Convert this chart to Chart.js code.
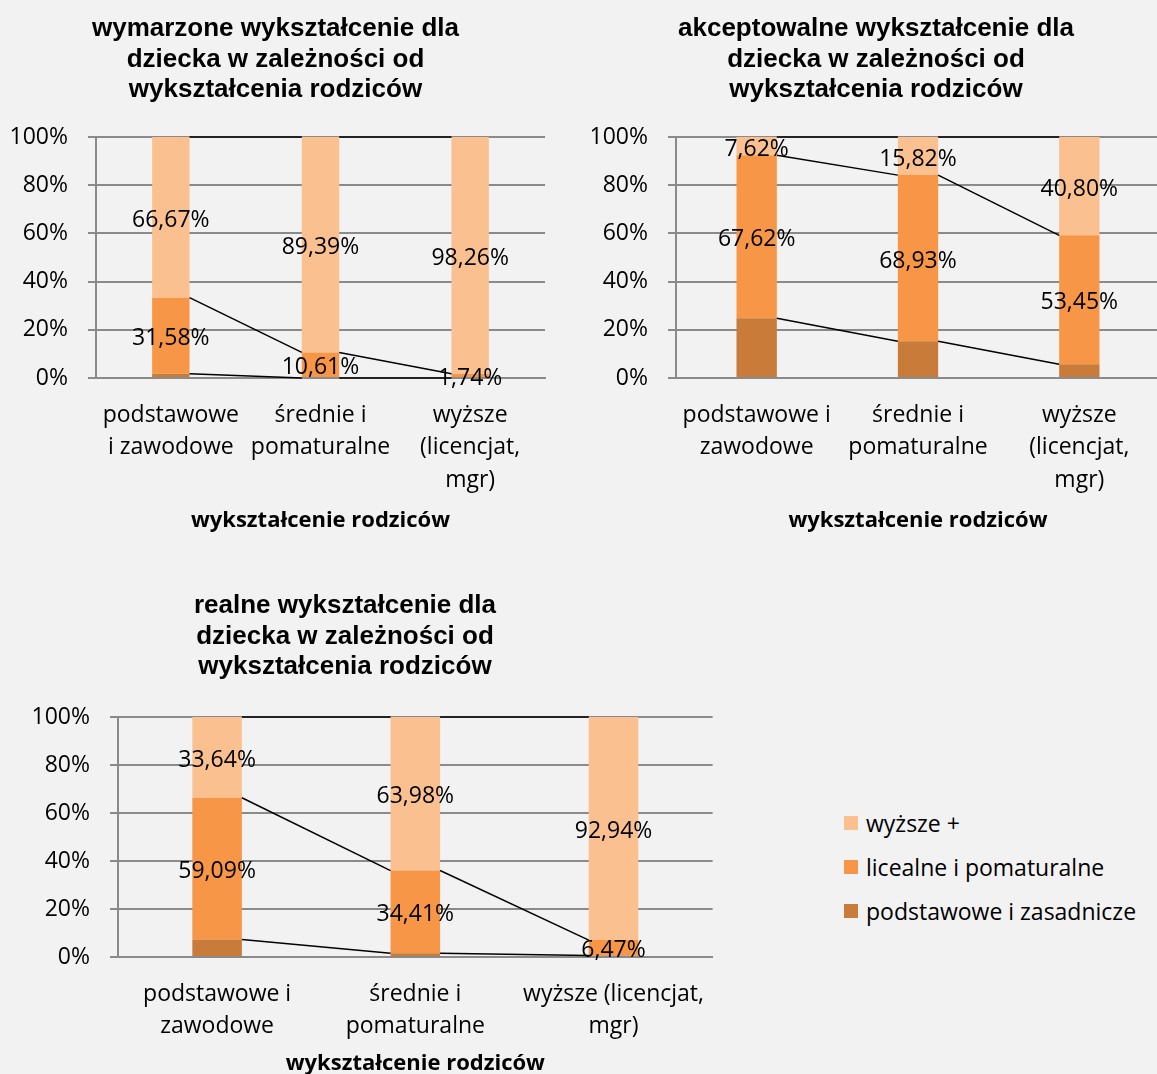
<!DOCTYPE html>
<html>
<head>
<meta charset="utf-8">
<script src="https://cdn.jsdelivr.net/npm/chart.js@4.4.1/dist/chart.umd.min.js"></script>
<style>
  html, body { margin: 0; padding: 0; background: #f2f2f2; overflow: hidden; width: 1157px; height: 1074px; position: relative; }
  canvas { position: absolute; }
  #legend { position: absolute; left: 844px; top: 801px; font-family: "Open Sans"; font-size: 23px; color: #000; }
  #legend div { height: 44px; display: flex; align-items: center; white-space: nowrap; }
  #legend span { display: inline-block; width: 14px; height: 14px; margin-right: 8px; }
</style>
</head>
<body>
<canvas id="dream-chart" style="left:0;top:0" width="560" height="534"></canvas>
<canvas id="accept-chart" style="left:592px;top:0" width="568" height="534"></canvas>
<canvas id="real-chart" style="left:-35px;top:580px" width="760" height="497"></canvas>
<div id="legend"></div>
<script>
// serie (od dołu stosu)
const seriesNames = ["podstawowe i zasadnicze", "licealne i pomaturalne", "wyższe +"];
const seriesColors = ["#c97b3a", "#f79646", "#fac090"];

const axisTitle = "wykształcenie rodziców";
const yTicks = [0, 20, 40, 60, 80, 100];

// wymarzone
const dreamTitle = ["wymarzone wykształcenie dla", "dziecka w zależności od", "wykształcenia rodziców"];
const dreamLabels = [["podstawowe", "i zawodowe"], ["średnie i", "pomaturalne"], ["wyższe", "(licencjat,", "mgr)"]];
const dreamBasic = [1.75, 0, 0];
const dreamMid = [31.58, 10.61, 1.74];
const dreamHigh = [66.67, 89.39, 98.26];

// akceptowalne
const acceptTitle = ["akceptowalne wykształcenie dla", "dziecka w zależności od", "wykształcenia rodziców"];
const acceptLabels = [["podstawowe i", "zawodowe"], ["średnie i", "pomaturalne"], ["wyższe", "(licencjat,", "mgr)"]];
const acceptBasic = [24.76, 15.25, 5.75];
const acceptMid = [67.62, 68.93, 53.45];
const acceptHigh = [7.62, 15.82, 40.80];

// realne
const realTitle = ["realne wykształcenie dla", "dziecka w zależności od", "wykształcenia rodziców"];
const realLabels = [["podstawowe i", "zawodowe"], ["średnie i", "pomaturalne"], ["wyższe (licencjat,", "mgr)"]];
const realBasic = [7.27, 1.61, 0.59];
const realMid = [59.09, 34.41, 6.47];
const realHigh = [33.64, 63.98, 92.94];

const gridColor = "#8a8a8a";

// linie serii między słupkami (jak w Excelu)
const seriesLines = {
  id: "seriesLines",
  afterDatasetsDraw(chart) {
    const ctx = chart.ctx;
    ctx.save();
    ctx.strokeStyle = "#000";
    ctx.lineWidth = 1.5;
    chart.data.datasets.forEach((ds, i) => {
      const bars = chart.getDatasetMeta(i).data;
      for (let j = 0; j < bars.length - 1; j++) {
        const a = bars[j], b = bars[j + 1];
        ctx.beginPath();
        ctx.moveTo(a.x + a.width / 2, a.y);
        ctx.lineTo(b.x - b.width / 2, b.y);
        ctx.stroke();
      }
    });
    ctx.restore();
  }
};

// etykiety wartości w środku segmentów
const segmentLabels = {
  id: "segmentLabels",
  afterDraw(chart) {
    const ctx = chart.ctx;
    ctx.save();
    ctx.font = '23px "Open Sans"';
    ctx.fillStyle = "#000";
    ctx.textAlign = "center";
    ctx.textBaseline = "middle";
    chart.data.datasets.forEach((ds, i) => {
      if (!ds.showValues) return;
      chart.getDatasetMeta(i).data.forEach((bar, j) => {
        const txt = ds.data[j].toFixed(2).replace(".", ",") + "%";
        ctx.fillText(txt, bar.x, (bar.y + bar.base) / 2 + 3);
      });
    });
    ctx.restore();
  }
};

function buildChart(id, title, labels, basic, mid, high, o) {
  const ctx = document.getElementById(id).getContext("2d");
  const values = [basic, mid, high];
  return new Chart(ctx, {
    type: "bar",
    data: {
      labels: labels,
      datasets: values.map((v, i) => ({
        label: seriesNames[i],
        data: v,
        backgroundColor: seriesColors[i],
        borderWidth: 0,
        barPercentage: 0.25,
        categoryPercentage: 1,
        showValues: i > 0,
      })),
    },
    options: {
      responsive: false,
      animation: false,
      events: [],
      layout: { padding: { left: o.padLeft, right: o.padRight, top: 0, bottom: 0 } },
      plugins: {
        legend: { display: false },
        tooltip: { enabled: false },
        title: {
          display: true,
          text: title,
          color: "#000",
          font: { family: "Liberation Sans", size: 26, weight: "bold", lineHeight: 1.173 },
          padding: { top: o.titleTop, bottom: o.titleBottom },
        },
      },
      scales: {
        x: {
          stacked: true,
          grid: { display: false, drawTicks: false },
          border: { display: true, color: gridColor, width: 2 },
          ticks: {
            color: "#000",
            padding: o.xPad,
            maxRotation: 0,
            autoSkip: false,
            font: { family: "Open Sans", size: 23, lineHeight: 1.41 },
          },
          title: {
            display: true,
            text: axisTitle,
            color: "#000",
            padding: 0,
            font: { family: "Open Sans", size: 22, weight: "bold", lineHeight: 1.2 },
          },
          afterFit: (s) => { s.height = o.xHeight; },
        },
        y: {
          stacked: true,
          min: yTicks[0],
          max: yTicks[yTicks.length - 1],
          afterBuildTicks: (s) => { s.ticks = yTicks.map((v) => ({ value: v })); },
          grid: { color: gridColor, lineWidth: 2, tickLength: 8 },
          border: { display: true, color: gridColor, width: 2 },
          ticks: {
            color: "#000",
            padding: 20,
            font: { family: "Open Sans", size: 23 },
            callback: (v) => v + "%",
          },
          afterFit: (s) => { s.width = o.yWidth; },
        },
      },
    },
    plugins: [seriesLines, segmentLabels],
  });
}

buildChart("dream-chart", dreamTitle, dreamLabels, dreamBasic, dreamMid, dreamHigh,
  { padLeft: 6, padRight: 15, yWidth: 90, xHeight: 156, xPad: 21, titleTop: 14, titleBottom: 31.5 });

buildChart("accept-chart", acceptTitle, acceptLabels, acceptBasic, acceptMid, acceptHigh,
  { padLeft: 0, padRight: 0, yWidth: 84, xHeight: 156, xPad: 21, titleTop: 14, titleBottom: 31.5 });

const realChart = buildChart("real-chart", realTitle, realLabels, realBasic, realMid, realHigh,
  { padLeft: 0, padRight: 0, yWidth: 153, xHeight: 120, xPad: 21, titleTop: 11, titleBottom: 34.5 });

// legenda obok trzeciego wykresu, kolejność odwrócona jak w Excelu
const legendItems = Chart.defaults.plugins.legend.labels.generateLabels(realChart).reverse();
const legendBox = document.getElementById("legend");
legendItems.forEach((item) => {
  const row = document.createElement("div");
  const sw = document.createElement("span");
  sw.style.background = item.fillStyle;
  row.appendChild(sw);
  row.appendChild(document.createTextNode(item.text));
  legendBox.appendChild(row);
});
</script>
</body>
</html>
